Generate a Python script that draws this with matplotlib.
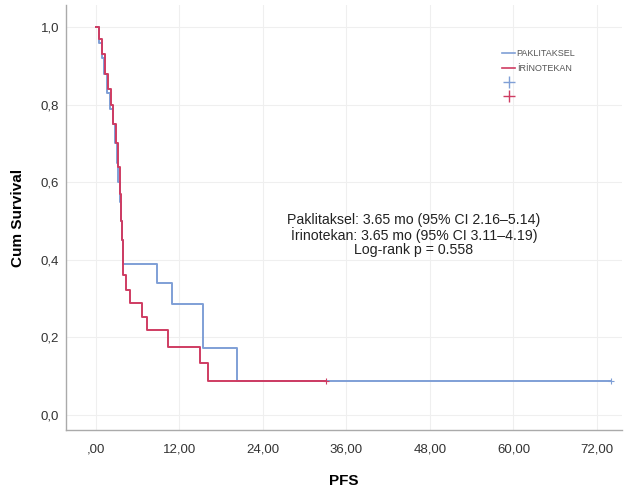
import matplotlib
matplotlib.use("Agg")
import matplotlib.pyplot as plt
from matplotlib.lines import Line2D

plt.rcParams["font.family"] = ["Liberation Sans", "DejaVu Sans"]

# Data
pac_times = [0, 0.4, 0.9, 1.2, 1.6, 2.0, 2.4, 2.7, 3.0, 3.2, 3.4, 3.6, 3.8, 3.9, 8.8, 10.9, 15.4, 20.3]
pac_surv = [1.0, 0.96, 0.92, 0.88, 0.83, 0.79, 0.75, 0.70, 0.65, 0.60, 0.55, 0.50, 0.45, 0.39, 0.34, 0.285, 0.172, 0.088]
pac_end = 74.0

iri_times = [0, 0.4, 0.9, 1.3, 1.7, 2.1, 2.5, 2.9, 3.2, 3.4, 3.6, 3.8, 3.9, 4.3, 4.9, 6.6, 7.4, 10.4, 14.9, 16.1]
iri_surv = [1.0, 0.97, 0.93, 0.88, 0.84, 0.80, 0.75, 0.70, 0.64, 0.57, 0.50, 0.45, 0.36, 0.322, 0.288, 0.253, 0.219, 0.175, 0.133, 0.088]
iri_end = 33.1

group_labels = ["PAKLITAKSEL", "İRİNOTEKAN"]
x_ticks = [0, 12, 24, 36, 48, 60, 72]
x_tick_labels = [",00", "12,00", "24,00", "36,00", "48,00", "60,00", "72,00"]
y_ticks = [0.0, 0.2, 0.4, 0.6, 0.8, 1.0]
y_tick_labels = ["0,0", "0,2", "0,4", "0,6", "0,8", "1,0"]
annotation = ("Paklitaksel: 3.65 mo (95% CI 2.16–5.14)\n"
              "İrinotekan: 3.65 mo (95% CI 3.11–4.19)\n"
              "Log-rank p = 0.558")

blue = "#7f9fd6"
red = "#cf3c62"

fig = plt.figure(figsize=(6.25, 4.95), dpi=100)
ax = fig.add_axes([66 / 625, 1 - 430 / 495, (622 - 66) / 625, (430 - 5) / 495])

def km(ax, times, surv, end, color):
    xs = list(times) + [end]
    ys = list(surv) + [surv[-1]]
    ax.step(xs, ys, where="post", color=color, lw=1.4)
    ax.plot([end], [surv[-1]], marker="+", color=color, ms=4, mew=0.8)

km(ax, pac_times, pac_surv, pac_end, blue)
km(ax, iri_times, iri_surv, iri_end, red)

ax.set_xlim(-4.3, 75.6)
ax.set_ylim(-0.039, 1.057)
ax.set_xticks(x_ticks)
ax.set_xticklabels(x_tick_labels)
ax.set_yticks(y_ticks)
ax.set_yticklabels(y_tick_labels)
ax.tick_params(axis="both", length=0, labelsize=9.5, colors="#333333")
ax.tick_params(axis="x", pad=10)
ax.tick_params(axis="y", pad=5)
ax.grid(True, color="#efefef", lw=0.8)
ax.set_axisbelow(True)
for s in ["top", "right"]:
    ax.spines[s].set_visible(False)
for s in ["left", "bottom"]:
    ax.spines[s].set_color("#aaaaaa")
    ax.spines[s].set_linewidth(1.0)

ax.set_xlabel("PFS", fontsize=11, fontweight="bold", labelpad=13)
ax.set_ylabel("Cum Survival", fontsize=11, fontweight="bold", labelpad=11)

ax.text(0.626, 0.459, annotation, transform=ax.transAxes, ha="center", va="center",
        fontsize=10.2, linespacing=1.02, color="#222222")

handles = [Line2D([], [], color=blue, lw=1.2),
           Line2D([], [], color=red, lw=1.2),
           Line2D([], [], color=blue, lw=0, marker="+", ms=8),
           Line2D([], [], color=red, lw=0, marker="+", ms=8)]
ax.legend(handles, group_labels + [" ", " "], loc="upper left",
          bbox_to_anchor=(0.77, 0.915), frameon=False, fontsize=6.5,
          handlelength=1.4, handletextpad=0.2, labelspacing=0.6, labelcolor="#555555")

fig.savefig("out.png", dpi=100)
